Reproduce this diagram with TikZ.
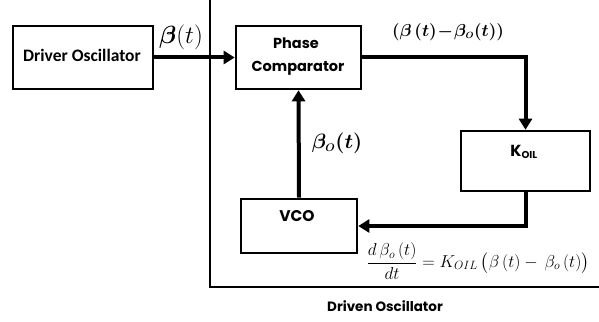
\documentclass[tikz,border=0pt]{standalone}
\usepackage{fontspec}
\usepackage{amsmath,bm}
\setsansfont{Poppins}
\newfontfamily\drvfont{Carlito}
\tikzset{
  blk/.style={draw, line width=2.6pt, inner sep=0pt, font=\sffamily\bfseries, align=center},
  sig/.style={line width=4pt, -{Triangle[length=11pt,width=13pt]}},
  frame/.style={line width=2.6pt},
  lbl/.style={inner sep=0pt, font=\sffamily\bfseries\fontsize{14.5}{16}\selectfont},
}
\usetikzlibrary{arrows.meta}
\begin{document}
\begin{tikzpicture}[x=1pt,y=-1pt]
\useasboundingbox (0,0) rectangle (599,321);
% driven oscillator frame
\coordinate (ftl) at (210,-2);
\coordinate (fbl) at (210,287);
\coordinate (fbr) at (601,287);
\coordinate (ftr) at (601,-2);
\draw[frame] (ftr) -- (ftl) -- (fbl) -- (fbr);
\node[blk, minimum width=140pt, minimum height=63pt] (drv) at (83,57.5) {};
\node[lbl, font=\drvfont\bfseries\fontsize{17.5}{19}\selectfont] (drvt) at (82,55) {Driver Oscillator};
\node[blk, minimum width=125pt, minimum height=63pt] (pc) at (298.5,57.5) {};
\node[lbl] (pct1) at (296,43) {Phase};
\node[lbl] (pct2) at (298,68) {Comparator};
\node[blk, minimum width=129pt, minimum height=60pt] (koil) at (525.5,161) {};
\node[lbl, font=\sffamily\bfseries\fontsize{16}{18}\selectfont] (koilt) at (524,152) {K\textsubscript{\fontsize{10}{11}\selectfont OIL}};
\node[blk, minimum width=116pt, minimum height=54pt] (vco) at (299,226) {};
\node[lbl, font=\sffamily\bfseries\fontsize{15.5}{17}\selectfont] (vcot) at (297,216) {VCO};
\coordinate (c1) at (koil.north |- pc.east);
\coordinate (c2) at (koil.south |- 0,226);
\draw[sig] (drv.east) -- (pc.west);
\draw[sig] (pc.east) -- (c1) -- (koil.north);
\draw[sig] (koil.south) -- (c2) -- (vco.east);
\draw[sig] (vco.north) -- (pc.south);
\node[font=\fontsize{24}{26}\selectfont] (lb1) at (181,37) {$\bm{\beta}(t)$};
\node[font=\fontsize{18.8}{20}\selectfont] (lb2) at (448,32) {$\bm{(\beta\,(t)\!-\!\beta_{\scriptscriptstyle O}(t))}$};
\node[font=\fontsize{21}{23}\selectfont] (lb3) at (337,143) {$\bm{\beta_{\scriptscriptstyle O}(t)}$};
\node[font=\fontsize{17}{19}\selectfont] (eq) at (478,261) {$\dfrac{d\,\beta_o\,(t)}{dt}=K_{OIL}\,\bigl(\beta\,(t)-\,\beta_o\,(t)\bigr)$};
\node[lbl, font=\sffamily\bfseries\fontsize{13.5}{15}\selectfont] (lb4) at (385,306) {Driven Oscillator};
\end{tikzpicture}
\end{document}
